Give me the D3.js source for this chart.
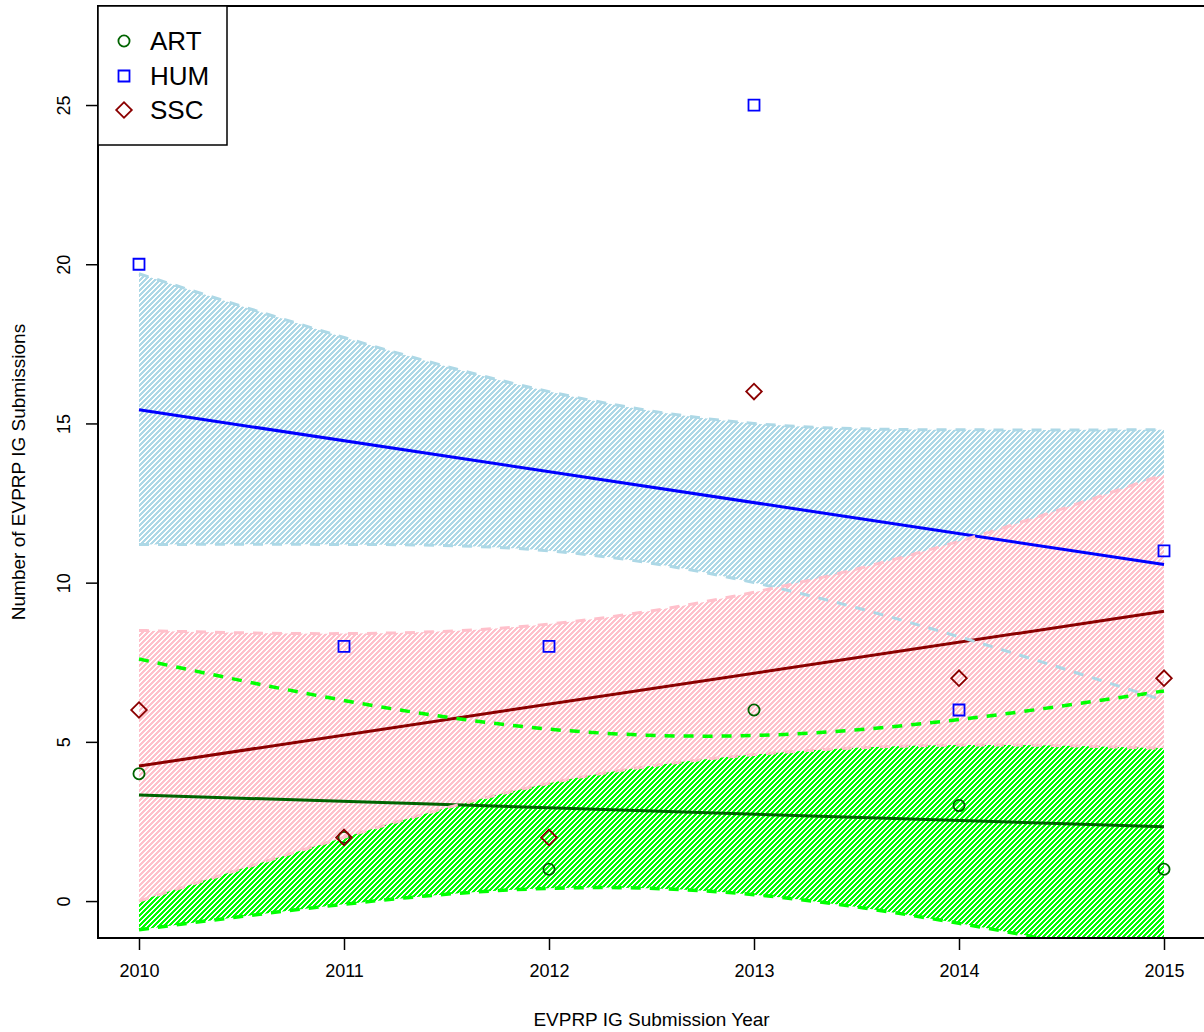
<!DOCTYPE html>
<html>
<head>
<meta charset="utf-8">
<script src="https://cdn.jsdelivr.net/npm/d3@7"></script>
<style>
  html, body { margin: 0; padding: 0; background: #fff; }
  svg { display: block; font-family: "Liberation Sans", Arial, Helvetica, sans-serif; }
</style>
</head>
<body>
<svg id="chart" width="1204" height="1032"></svg>
<script>
// Submission years and counts per division
const years = [2010, 2011, 2012, 2013, 2014, 2015];
const artCounts = [4, 2, 1, 6, 3, 1];
const humCounts = [20, 8, 8, 25, 6, 11];
const sscCounts = [6, 2, 2, 16, 7, 7];

// Fitted trend values at the first and last year
const fitYears = [2010, 2015];
const artFit = [3.33, 2.33];
const humFit = [15.43, 10.57];
const sscFit = [4.24, 9.10];

// Confidence band edges at each year
const artUpper = [7.6, 6.3, 5.4, 5.2, 5.7, 6.6];
const artLower = [-0.9, -0.1, 0.4, 0.2, -0.7, -1.9];
const humUpper = [19.7, 17.7, 16.0, 15.0, 14.8, 14.8];
const humLower = [11.2, 11.2, 11.0, 10.0, 8.3, 6.3];
const sscUpper = [8.5, 8.4, 8.7, 9.7, 11.3, 13.4];
const sscLower = [0.0, 2.0, 3.7, 4.6, 4.9, 4.8];

const yTicks = [0, 5, 10, 15, 20, 25];
const legendLabels = ["ART", "HUM", "SSC"];

const svg = d3.select("#chart");
const plotLeft = 98, plotRight = 1205, plotTop = 6, plotBottom = 938;

const x = d3.scaleLinear().domain([2009.8, 2015.2]).range([plotLeft, plotRight]);
const y = d3.scaleLinear().domain([-1.16, 28.11]).range([plotBottom, plotTop]);

const defs = svg.append("defs");
defs.append("clipPath").attr("id", "plotClip")
  .append("rect").attr("x", plotLeft).attr("y", plotTop)
  .attr("width", plotRight - plotLeft).attr("height", plotBottom - plotTop);

// Diagonal hatch patterns
function hatch(id, color, width, bg) {
  const p = defs.append("pattern").attr("id", id)
    .attr("patternUnits", "userSpaceOnUse")
    .attr("width", 5).attr("height", 5);
  if (bg) p.append("rect").attr("width", 5).attr("height", 5).attr("fill", bg);
  p.append("path")
    .attr("d", "M0,5 L5,0 M-1,1 L1,-1 M4,6 L6,4")
    .attr("stroke", color).attr("stroke-width", width).attr("fill", "none")
    .attr("shape-rendering", "crispEdges");
}
hatch("hatchArt", "#00FF00", 2.0, null);
hatch("hatchHum", "#ADD8E6", 1.6, "#fff");
hatch("hatchSsc", "#FFC0CB", 1.6, "#fff");

const series = [
  { name: "ART", counts: artCounts, fit: artFit, upper: artUpper, lower: artLower,
    color: "#006400", band: "#00FF00", pattern: "hatchArt", symbol: d3.symbolCircle, size: 98, rot: 0, bw: 3.5 },
  { name: "HUM", counts: humCounts, fit: humFit, upper: humUpper, lower: humLower,
    color: "#0000FF", band: "#ADD8E6", pattern: "hatchHum", symbol: d3.symbolSquare, size: 121, rot: 0, bw: 3 },
  { name: "SSC", counts: sscCounts, fit: sscFit, upper: sscUpper, lower: sscLower,
    color: "#8B0000", band: "#FFC0CB", pattern: "hatchSsc", symbol: d3.symbolSquare, size: 121, rot: 45, bw: 3 }
];

const plot = svg.append("g").attr("clip-path", "url(#plotClip)");

const area = d3.area()
  .x((d, i) => x(years[i]))
  .y0(d => y(d[0]))
  .y1(d => y(d[1]))
  .curve(d3.curveNatural);

const edge = d3.line()
  .x((d, i) => x(years[i]))
  .y(d => y(d))
  .curve(d3.curveNatural);

// Band fills: ART first, then HUM, then SSC on top
series.forEach(s => {
  const pts = s.lower.map((v, i) => [v, s.upper[i]]);
  plot.append("path").datum(pts).attr("d", area)
    .attr("fill", `url(#${s.pattern})`).attr("stroke", "none");
});

// Fitted trend lines
const fitLine = d3.line().x((d, i) => x(fitYears[i])).y(d => y(d));
series.forEach(s => {
  plot.append("path").datum(s.fit).attr("d", fitLine)
    .attr("fill", "none").attr("stroke", s.color).attr("stroke-width", 3);
});

// Dashed band edges
series.forEach(s => {
  [s.upper, s.lower].forEach(vals => {
    plot.append("path").datum(vals).attr("d", edge)
      .attr("fill", "none").attr("stroke", s.band)
      .attr("stroke-width", s.bw).attr("stroke-dasharray", "10,9");
  });
});

// Observed counts
series.forEach(s => {
  const sym = d3.symbol().type(s.symbol).size(s.size);
  plot.selectAll(null).data(s.counts).enter().append("path")
    .attr("d", sym)
    .attr("transform", (d, i) => `translate(${x(years[i])},${y(d)}) rotate(${s.rot})`)
    .attr("fill", "none").attr("stroke", s.color).attr("stroke-width", 1.8);
});

// Axes
const xAxis = svg.append("g").attr("transform", `translate(0,${plotBottom})`)
  .call(d3.axisBottom(x).tickValues(years).tickSize(12).tickPadding(14).tickFormat(d3.format("d")));
xAxis.select(".domain").remove();
xAxis.attr("font-family", null);
xAxis.selectAll("line").attr("stroke", "#000").attr("stroke-width", 1.5);
xAxis.selectAll("text").attr("font-size", 18).attr("fill", "#000");

const yAxis = svg.append("g").attr("transform", `translate(${plotLeft},0)`)
  .call(d3.axisLeft(y).tickValues(yTicks).tickSize(12));
yAxis.select(".domain").remove();
yAxis.attr("font-family", null);
yAxis.selectAll("line").attr("stroke", "#000").attr("stroke-width", 1.5);
yAxis.selectAll("text")
  .attr("x", null).attr("dy", null)
  .attr("transform", "translate(-28,0) rotate(-90)")
  .attr("text-anchor", "middle")
  .attr("font-size", 18).attr("fill", "#000");

// Plot frame
svg.append("rect").attr("x", plotLeft).attr("y", plotTop)
  .attr("width", plotRight - plotLeft).attr("height", plotBottom - plotTop)
  .attr("fill", "none").attr("stroke", "#000").attr("stroke-width", 2);

// Axis titles
svg.append("text").attr("x", (plotLeft + plotRight) / 2).attr("y", 1026)
  .attr("text-anchor", "middle").attr("font-size", 19)
  .text("EVPRP IG Submission Year");
svg.append("text")
  .attr("transform", `translate(25,${(plotTop + plotBottom) / 2}) rotate(-90)`)
  .attr("text-anchor", "middle").attr("font-size", 19)
  .text("Number of EVPRP IG Submissions");

// Legend
const legend = svg.append("g");
legend.append("rect").attr("x", plotLeft).attr("y", plotTop).attr("width", 129).attr("height", 139)
  .attr("fill", "#fff").attr("stroke", "#000").attr("stroke-width", 1.5);
const legendY = [41, 76, 110];
series.forEach((s, i) => {
  legend.append("path")
    .attr("d", d3.symbol().type(s.symbol).size(s.size))
    .attr("transform", `translate(124,${legendY[i]}) rotate(${s.rot})`)
    .attr("fill", "none").attr("stroke", s.color).attr("stroke-width", 1.8);
  legend.append("text").attr("x", 150).attr("y", legendY[i]).attr("dy", "0.35em")
    .attr("font-size", 26).text(legendLabels[i]);
});
</script>
</body>
</html>
